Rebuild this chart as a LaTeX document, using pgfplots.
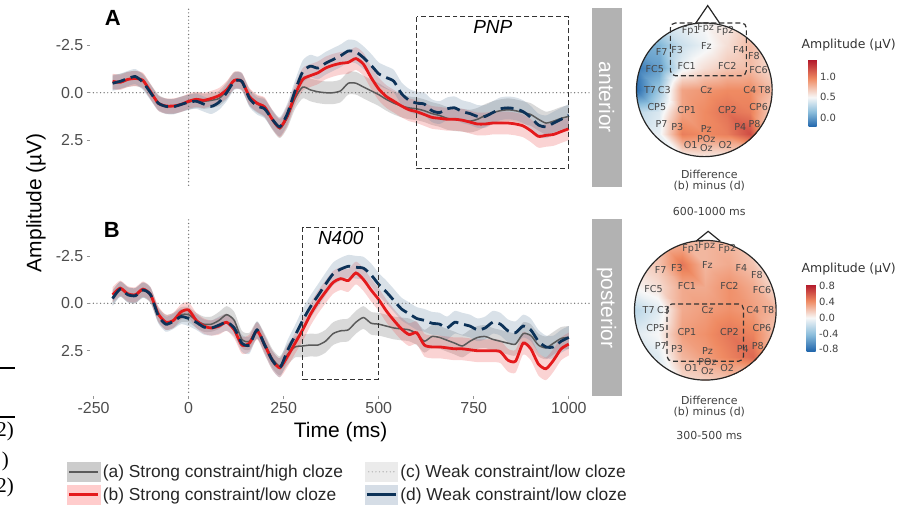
\documentclass[border=0pt]{standalone}
\usepackage{fontspec}
\setmainfont{Liberation Sans}
\newfontfamily\dejavu{DejaVu Sans}
\newfontfamily\serifx{Liberation Serif}
\usepackage{pgfplots}
\pgfplotsset{compat=1.18}
\usepackage{pgfplotstable}
\usepgfplotslibrary{fillbetween}

\definecolor{cgray}{RGB}{90,90,90}
\definecolor{cred}{RGB}{228,26,28}
\definecolor{cblue}{RGB}{12,50,88}
\definecolor{bgray}{RGB}{120,120,120}
\definecolor{bred}{RGB}{235,80,80}
\definecolor{bblue}{RGB}{105,135,165}
\definecolor{ticklab}{RGB}{77,77,77}
\definecolor{strip}{RGB}{178,178,178}

\tikzset{
  dotline/.style={black!55, line width=1.4pt, line cap=round, dash pattern=on 0pt off 3.6pt},
  boxline/.style={black!80, line width=1.2pt, dash pattern=on 5pt off 3pt},
}
\pgfplotsset{
  colormap={topmap}{rgb255(0cm)=(33,102,172) rgb255(2.2cm)=(140,190,220) rgb255(4.4cm)=(247,247,247) rgb255(7.2cm)=(239,138,98) rgb255(10cm)=(178,24,43)},
  colormap={botmap}{rgb255(0cm)=(33,102,172) rgb255(1cm)=(140,190,220) rgb255(2cm)=(247,247,247) rgb255(3cm)=(239,138,98) rgb255(4cm)=(178,24,43)},
  erp/.style={
    scale only axis, width=503pt,
    xmin=-260, xmax=1060, y dir=reverse,
    axis line style={draw=none},
    ytick={-2.5,0,2.5}, yticklabels={-2.5,0.0,2.5},
    ytick pos=left, xtick pos=bottom,
    tick align=outside, major tick length=3pt,
    tick style={ticklab!60, line width=0.7pt},
    tick label style={font=\fontsize{16}{18}\selectfont, text=ticklab},
    no markers,
  },
  topo/.style={scale only axis, hide axis, xmin=-1, xmax=1, ymin=-1, ymax=1, clip=false},
}

% time (ms), (a), (b), (d), half width of the ribbons
\pgfplotstableread{
t a b d s
-200 -0.55 -0.60 -0.50 0.40
-180 -0.60 -0.55 -0.60 0.40
-160 -0.70 -0.70 -0.75 0.40
-140 -0.75 -0.75 -0.85 0.40
-120 -0.60 -0.65 -0.55 0.40
-100 -0.05 -0.05 0.00 0.40
-80 0.50 0.55 0.55 0.40
-60 0.70 0.70 0.72 0.40
-40 0.72 0.70 0.74 0.40
-20 0.60 0.62 0.62 0.40
0 0.50 0.45 0.50 0.40
20 0.40 0.35 0.45 0.40
40 0.45 0.40 0.60 0.40
60 0.40 0.30 0.72 0.40
80 0.30 0.15 0.50 0.40
100 -0.10 -0.15 0.00 0.45
120 -0.65 -0.65 -0.60 0.45
140 -0.55 -0.60 -0.60 0.45
160 0.25 0.20 0.30 0.45
180 0.60 0.55 0.70 0.45
200 0.80 0.75 0.85 0.50
220 1.45 1.40 1.40 0.50
240 1.90 1.85 1.80 0.50
260 1.30 1.20 1.10 0.55
280 0.30 0.10 -0.10 0.55
300 -0.30 -0.70 -1.10 0.60
320 -0.15 -0.90 -1.40 0.60
340 -0.05 -1.05 -1.30 0.60
360 0.00 -1.30 -1.55 0.60
380 0.00 -1.45 -1.75 0.60
400 -0.10 -1.55 -1.95 0.60
420 -0.50 -1.60 -2.20 0.60
440 -0.50 -1.80 -2.15 0.60
460 -0.30 -1.50 -1.85 0.60
480 -0.10 -0.80 -1.45 0.60
500 0.10 -0.20 -1.00 0.60
520 0.35 0.20 -0.80 0.60
540 0.55 0.45 -0.60 0.60
560 0.70 0.70 0.05 0.60
580 0.80 0.90 0.40 0.60
600 0.85 1.00 0.55 0.60
620 0.95 1.15 0.60 0.60
640 1.10 1.30 0.95 0.60
660 1.20 1.35 1.05 0.60
680 1.35 1.40 0.85 0.60
700 1.42 1.40 0.80 0.60
720 1.45 1.45 1.00 0.60
740 1.50 1.55 1.10 0.60
760 1.40 1.65 1.25 0.60
780 1.20 1.65 1.25 0.60
800 1.05 1.60 1.05 0.60
820 0.95 1.60 0.85 0.60
840 0.90 1.60 0.80 0.60
860 0.95 1.65 0.85 0.60
880 1.05 1.75 1.00 0.60
900 1.15 2.00 1.30 0.60
920 1.40 2.30 1.70 0.60
940 1.60 2.25 1.80 0.60
960 1.50 2.20 1.60 0.60
980 1.35 2.05 1.40 0.60
1000 1.25 1.90 1.20 0.60
}\dataA

\pgfplotstableread{
t a b d s
-200 -0.30 -0.45 -0.25 0.40
-180 -0.75 -0.80 -0.75 0.40
-160 -0.45 -0.50 -0.45 0.40
-140 -0.40 -0.45 -0.40 0.40
-120 -0.70 -0.75 -0.70 0.40
-100 -0.40 -0.45 -0.45 0.40
-80 0.60 0.55 0.65 0.40
-60 1.00 1.00 1.10 0.40
-40 0.90 0.90 0.95 0.40
-20 0.60 0.45 0.70 0.40
0 0.60 0.35 0.80 0.40
20 0.90 0.90 1.00 0.40
40 1.10 1.20 1.25 0.40
60 1.10 1.30 1.30 0.40
80 0.90 1.20 1.15 0.45
100 0.60 1.00 1.00 0.45
120 0.90 1.40 1.30 0.45
140 1.90 2.20 2.10 0.45
160 2.00 2.10 2.20 0.45
180 1.40 1.45 1.40 0.45
200 2.10 2.20 2.20 0.50
220 2.90 3.00 3.00 0.50
240 3.30 3.40 3.40 0.50
260 2.70 2.80 2.50 0.55
280 2.30 2.10 1.70 0.55
300 2.25 1.40 0.90 0.60
320 2.20 0.60 0.20 0.60
340 2.20 -0.05 -0.40 0.60
360 2.00 -0.60 -1.00 0.60
380 1.60 -1.10 -1.55 0.60
400 1.45 -1.30 -1.80 0.60
420 1.40 -1.20 -1.95 0.60
440 1.00 -1.60 -1.90 0.60
460 0.75 -1.25 -1.85 0.60
480 1.05 -0.70 -1.50 0.60
500 1.10 -0.20 -1.00 0.60
520 1.20 0.40 -0.60 0.60
540 1.30 0.90 -0.15 0.60
560 1.35 1.35 0.30 0.60
580 1.40 1.65 0.55 0.60
600 1.60 1.55 0.80 0.60
620 2.00 2.20 0.90 0.60
640 1.75 2.30 1.05 0.60
660 1.80 2.30 1.10 0.60
680 1.95 2.35 1.30 0.60
700 2.10 2.40 1.00 0.60
720 2.25 2.40 1.10 0.60
740 2.00 2.45 1.20 0.60
760 1.80 2.50 1.40 0.60
780 1.75 2.50 1.30 0.60
800 1.90 2.50 1.00 0.60
820 2.00 2.55 1.10 0.60
840 2.10 3.00 1.45 0.60
860 2.15 3.05 1.55 0.60
880 1.60 2.10 1.20 0.60
900 1.70 2.40 1.40 0.60
920 2.20 3.20 2.00 0.60
940 2.35 3.45 2.30 0.60
960 2.10 3.00 2.30 0.60
980 1.85 2.40 2.00 0.60
1000 1.80 2.15 1.80 0.60
}\dataB

% topographic difference maps on a 7x7 grid (head radius = 1)
\pgfplotstableread{
u v c
-1 -1 0.45
-0.667 -1 0.45
-0.333 -1 0.50
0 -1 0.55
0.333 -1 0.55
0.667 -1 0.55
1 -1 0.50
-1 -0.667 0.45
-0.667 -0.667 0.45
-0.333 -0.667 1.00
0 -0.667 0.95
0.333 -0.667 1.00
0.667 -0.667 1.20
1 -0.667 0.60
-1 -0.333 0.30
-0.667 -0.333 0.40
-0.333 -0.333 0.85
0 -0.333 0.95
0.333 -0.333 1.05
0.667 -0.333 1.00
1 -0.333 0.65
-1 0 -0.20
-0.667 0 0.20
-0.333 0 0.85
0 0 0.90
0.333 0 0.95
0.667 0 0.95
1 0 0.75
-1 0.333 -0.15
-0.667 0.333 0.00
-0.333 0.333 0.45
0 0.333 0.60
0.333 0.333 0.70
0.667 0.333 0.75
1 0.333 0.60
-1 0.667 0.05
-0.667 0.667 0.10
-0.333 0.667 0.35
0 0.667 0.45
0.333 0.667 0.60
0.667 0.667 0.75
1 0.667 0.55
-1 1 0.35
-0.667 1 0.35
-0.333 1 0.45
0 1 0.50
0.333 1 0.55
0.667 1 0.60
1 1 0.60
}\topoA

\pgfplotstableread{
u v c
-1 -1 0.05
-0.667 -1 0.05
-0.333 -1 0.10
0 -1 0.15
0.333 -1 0.20
0.667 -1 0.15
1 -1 0.05
-1 -0.667 -0.15
-0.667 -0.667 -0.10
-0.333 -0.667 0.25
0 -0.667 0.35
0.333 -0.667 0.45
0.667 -0.667 0.55
1 -0.667 0.20
-1 -0.333 -0.10
-0.667 -0.333 0.00
-0.333 -0.333 0.35
0 -0.333 0.40
0.333 -0.333 0.50
0.667 -0.333 0.45
1 -0.333 0.20
-1 0 -0.25
-0.667 0 -0.10
-0.333 0 0.30
0 0 0.35
0.333 0 0.40
0.667 0 0.35
1 0 0.25
-1 0.333 0.00
-0.667 0.333 0.10
-0.333 0.333 0.30
0 0.333 0.30
0.333 0.333 0.40
0.667 0.333 0.30
1 0.333 0.10
-1 0.667 0.10
-0.667 0.667 0.20
-0.333 0.667 0.50
0 0.667 0.25
0.333 0.667 0.30
0.667 0.667 0.20
1 0.667 -0.20
-1 1 0.15
-0.667 1 0.20
-0.333 1 0.25
0 1 0.25
0.333 1 0.25
0.667 1 0.10
1 1 0.00
}\topoB

\pgfplotstableread{
u v n
-0.20 0.88 Fp1
0.02 0.92 Fpz
0.31 0.88 Fp2
-0.63 0.57 F7
-0.40 0.60 F3
0.03 0.65 Fz
0.51 0.60 F4
0.73 0.51 F8
-0.73 0.31 FC5
-0.26 0.35 FC1
0.34 0.35 FC2
0.80 0.29 FC6
-0.80 0.00 T7
-0.59 0.00 C3
0.03 0.00 Cz
0.67 0.00 C4
0.89 0.00 T8
-0.70 -0.26 CP5
-0.26 -0.31 CP1
0.34 -0.31 CP2
0.80 -0.26 CP6
-0.63 -0.51 P7
-0.40 -0.55 P3
0.03 -0.58 Pz
0.53 -0.55 P4
0.74 -0.51 P8
0.03 -0.74 POz
-0.20 -0.83 O1
0.03 -0.87 Oz
0.31 -0.83 O2
}\elec

\newcommand\ribbon[5]{%
  \addplot[draw=none, smooth, tension=0.4, name path=lo#4#2, forget plot] table[x=t, y expr=\thisrow{#2}-\thisrow{s}] {#1};
  \addplot[draw=none, smooth, tension=0.4, name path=hi#4#2, forget plot] table[x=t, y expr=\thisrow{#2}+\thisrow{s}] {#1};
  \addplot[fill=#3, fill opacity=#5, draw=none, forget plot] fill between[of=lo#4#2 and hi#4#2];
}
\newcommand\erplines[1]{%
  \addplot[cgray, line width=1.5pt, smooth, tension=0.4, forget plot] table[x=t, y=a] {#1};
  \addplot[cred, line width=2.8pt, smooth, tension=0.4, forget plot] table[x=t, y=b] {#1};
  \addplot[cblue, line width=2.8pt, smooth, tension=0.4, dash pattern=on 13pt off 6pt, forget plot] table[x=t, y=d] {#1};
}
\newcommand\elecnames{%
  \addplot[only marks, mark=none, nodes near coords, point meta=explicit symbolic,
    every node near coord/.append style={anchor=center, inner sep=0pt,
      font=\dejavu\fontsize{9.6}{10}\selectfont, text=black!72}]
    table[x=u, y=v, meta=n] {\elec};
}

\begin{document}
\begin{tikzpicture}
% ---------- panel A ----------
\begin{axis}[erp, at={(90pt,-8pt)}, anchor=north west, height=179pt,
  ymin=-4.47, ymax=4.95, xtick=\empty]
  \ribbon{\dataA}{a}{bgray}{A}{0.28}
  \ribbon{\dataA}{b}{bred}{A}{0.25}
  \ribbon{\dataA}{d}{bblue}{A}{0.25}
  \addplot[dotline, forget plot] coordinates {(-260,0) (1060,0)};
  \addplot[dotline, forget plot] coordinates {(0,-4.4) (0,4.9)};
  \erplines{\dataA}
  \draw[boxline] (axis cs:600,-4) rectangle (axis cs:1000,4);
  \node[font=\itshape\fontsize{19}{21}\selectfont] at (axis cs:800,-3.45) {PNP};
\end{axis}

% ---------- panel B ----------
\begin{axis}[erp, at={(90pt,-220pt)}, anchor=north west, height=177pt,
  ymin=-4.42, ymax=4.89,
  xtick={-250,0,250,500,750,1000}, xticklabels={-250,0,250,500,750,1000},
  legend columns=2,
  legend style={at={(-0.0457,-0.3730)}, anchor=north west, draw=none, fill=none,
    font=\fontsize{17.4}{19}\selectfont, inner sep=0pt, row sep=3.5pt,
    /tikz/every even column/.append style={column sep=19pt},
    nodes={inner xsep=2.5pt, inner ysep=1pt, text=black!85}},
  legend cell align=left]
  \ribbon{\dataB}{a}{bgray}{B}{0.28}
  \ribbon{\dataB}{b}{bred}{B}{0.25}
  \ribbon{\dataB}{d}{bblue}{B}{0.25}
  \addplot[dotline, forget plot] coordinates {(-260,0) (1060,0)};
  \addplot[dotline, forget plot] coordinates {(0,-4.4) (0,4.85)};
  \erplines{\dataB}
  \draw[boxline] (axis cs:300,-4) rectangle (axis cs:500,4);
  \node[font=\itshape\fontsize{19}{21}\selectfont] at (axis cs:400,-3.45) {N400};
  \addlegendimage{legend image code/.code={
    \fill[black!20] (0pt,-9.5pt) rectangle (33pt,9.5pt);
    \draw[cgray, line width=2pt] (2pt,0pt) -- (31pt,0pt);}}
  \addlegendentry{(a) Strong constraint/high cloze}
  \addlegendimage{legend image code/.code={
    \fill[black!8] (0pt,-9.5pt) rectangle (33pt,9.5pt);
    \draw[black!30, line width=1.4pt, line cap=round, dash pattern=on 0pt off 3.6pt] (4pt,0pt) -- (31pt,0pt);}}
  \addlegendentry{(c) Weak constraint/low cloze}
  \addlegendimage{legend image code/.code={
    \fill[red!20] (0pt,-9.5pt) rectangle (33pt,9.5pt);
    \draw[cred, line width=3pt] (2pt,0pt) -- (31pt,0pt);}}
  \addlegendentry{(b) Strong constraint/low cloze}
  \addlegendimage{legend image code/.code={
    \fill[bblue!28] (0pt,-9.5pt) rectangle (33pt,9.5pt);
    \draw[cblue, line width=3pt] (2pt,0pt) -- (31pt,0pt);}}
  \addlegendentry{(d) Weak constraint/low cloze}
\end{axis}

% facet strips, panel letters, axis titles
\fill[strip] (593pt,-8pt) rectangle (623pt,-187pt);
\fill[strip] (593pt,-220pt) rectangle (623pt,-397pt);
\node[rotate=-90, text=white, font=\fontsize{21}{23}\selectfont] at (608pt,-97.5pt) {anterior};
\node[rotate=-90, text=white, font=\fontsize{21}{23}\selectfont] at (608pt,-308.5pt) {posterior};
\node[font=\bfseries\fontsize{22}{24}\selectfont] at (113pt,-18pt) {A};
\node[font=\bfseries\fontsize{22}{24}\selectfont] at (112pt,-230pt) {B};
\node[rotate=90, font=\fontsize{21}{23}\selectfont] at (36pt,-203pt) {Amplitude (µV)};
\node[font=\fontsize{21}{23}\selectfont] at (341.5pt,-433pt) {Time (ms)};

% ---------- topomap A ----------
\begin{axis}[topo, at={(706pt,-90pt)}, anchor=center, width=136pt, height=134pt,
  colormap name=topmap, point meta min=-0.22, point meta max=1.41,
  colorbar, colorbar style={at={(parent axis.north east)}, anchor=north west,
    xshift=28pt, yshift=-37pt, scale only axis, width=8pt, height=67pt,
    axis line style={draw=none}, major tick length=0pt,
    ytick={0,0.5,1}, yticklabels={0.0,0.5,1.0},
    yticklabel style={font=\dejavu\fontsize{10}{12}\selectfont, text=black!75}}]
  \clip (axis cs:0,0) ellipse [x radius=1, y radius=1];
  \addplot[surf, shader=interp, mesh/cols=7, point meta=\thisrow{c}] table[x=u, y=v] {\topoA};
\end{axis}
\begin{axis}[topo, at={(706pt,-90pt)}, anchor=center, width=136pt, height=134pt]
  \draw[black!85, line width=1.2pt] (axis cs:0,0) ellipse [x radius=1, y radius=1];
  \draw[black!85, line width=1.2pt] (axis cs:-0.13,0.99) -- (axis cs:0.05,1.26) -- (axis cs:0.23,0.99);
  \draw[boxline, rounded corners=5pt] (axis cs:-0.5,1.0) rectangle (axis cs:0.62,0.21);
  \elecnames
\end{axis}
\node[anchor=west, font=\dejavu\fontsize{12.5}{14}\selectfont, text=black!80] at (800pt,-45pt) {Amplitude (µV)};
\node[font=\dejavu\fontsize{11}{13}\selectfont, text=black!75] at (711pt,-175pt) {Difference};
\node[font=\dejavu\fontsize{11}{13}\selectfont, text=black!75] at (711pt,-187pt) {(b) minus (d)};
\node[font=\dejavu\fontsize{11}{13}\selectfont, text=black!75] at (711pt,-212pt) {600-1000 ms};

% ---------- topomap B ----------
\begin{axis}[topo, at={(707pt,-311pt)}, anchor=center, width=142pt, height=140pt,
  colormap name=botmap, point meta min=-0.85, point meta max=0.85,
  colorbar, colorbar style={at={(parent axis.north east)}, anchor=north west,
    xshift=22pt, yshift=-44pt, scale only axis, width=9pt, height=67pt,
    axis line style={draw=none}, major tick length=0pt,
    ytick={-0.8,-0.4,0,0.4,0.8}, yticklabels={-0.8,-0.4,0.0,0.4,0.8},
    yticklabel style={font=\dejavu\fontsize{10}{12}\selectfont, text=black!75}}]
  \clip (axis cs:0,0) ellipse [x radius=1, y radius=1];
  \addplot[surf, shader=interp, mesh/cols=7, point meta=\thisrow{c}] table[x=u, y=v] {\topoB};
\end{axis}
\begin{axis}[topo, at={(707pt,-311pt)}, anchor=center, width=142pt, height=140pt]
  \draw[black!85, line width=1.2pt] (axis cs:0,0) ellipse [x radius=1, y radius=1];
  \draw[black!85, line width=1.2pt] (axis cs:-0.13,0.99) -- (axis cs:0.04,1.13) -- (axis cs:0.21,0.99);
  \draw[boxline, rounded corners=5pt] (axis cs:-0.54,0.09) rectangle (axis cs:0.54,-0.73);
  \elecnames
\end{axis}
\node[anchor=west, font=\dejavu\fontsize{12.5}{14}\selectfont, text=black!80] at (800pt,-270pt) {Amplitude (µV)};
\node[font=\dejavu\fontsize{11}{13}\selectfont, text=black!75] at (711pt,-401pt) {Difference};
\node[font=\dejavu\fontsize{11}{13}\selectfont, text=black!75] at (711pt,-413pt) {(b) minus (d)};
\node[font=\dejavu\fontsize{11}{13}\selectfont, text=black!75] at (711pt,-437pt) {300-500 ms};

% cropped fragments at the left edge
\begin{scope}
\clip (0pt,0pt) rectangle (899pt,-505pt);
\draw[line width=1.3pt] (0pt,-369pt) -- (15pt,-369pt);
\draw[line width=1.3pt] (0pt,-418pt) -- (15pt,-418pt);
\node[anchor=east, inner sep=0pt, font=\serifx\fontsize{21}{23}\selectfont] at (14pt,-432pt) {2)};
\node[anchor=east, inner sep=0pt, font=\serifx\fontsize{21}{23}\selectfont] at (9pt,-463pt) {)};
\node[anchor=east, inner sep=0pt, font=\serifx\fontsize{21}{23}\selectfont] at (14pt,-489pt) {2)};
\end{scope}
\path (0pt,0pt) rectangle (899pt,-505pt);
\end{tikzpicture}
\end{document}
